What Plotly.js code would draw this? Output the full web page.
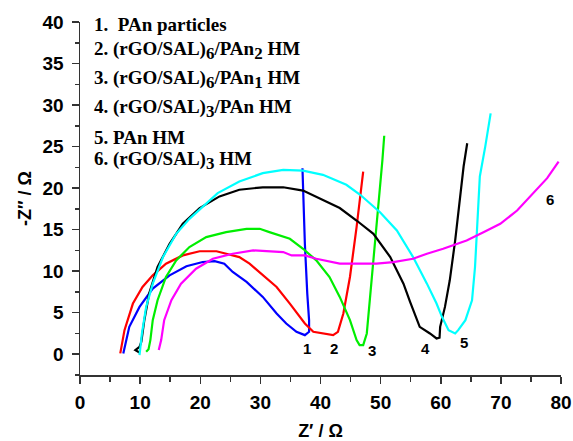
<!DOCTYPE html>
<html><head><meta charset="utf-8">
<script src="https://cdn.plot.ly/plotly-3.0.1.min.js"></script>
<style>html,body{margin:0;padding:0;background:#fff}#chart{width:573px;height:441px}</style>
</head><body><div id="chart"></div>
<script>
// Series data (Z' , -Z'')
const S = (d)=>'<sub><span style="font-size:17px">'+d+'</span></sub>';
const names = ["1.  PAn particles","2. (rGO/SAL)"+S("6")+"/PAn"+S("2")+" HM","3. (rGO/SAL)"+S("6")+"/PAn"+S("1")+" HM","4. (rGO/SAL)"+S("3")+"/PAn HM","5. PAn HM","6. (rGO/SAL)"+S("3")+" HM"];
const curveLabels = ["1","2","3","4","5","6"];
const colors = ["#0000ff","#ff0000","#00ee00","#000000","#00ffff","#ff00ff"];

const x1 = [7.2, 8.2, 9.9, 12.1, 14.9, 17.7, 20.4, 22.4, 24.0, 25.4, 27.7, 29.9, 30.4, 32.7, 34.3, 36.0, 37.4, 38.1, 38.1, 37.8, 37.4, 37.0];
const y1 = [0.1, 3.3, 5.7, 7.9, 9.5, 10.6, 11.1, 11.2, 10.9, 9.9, 8.7, 7.3, 6.9, 4.9, 3.7, 2.7, 2.3, 2.7, 4.1, 7.3, 13.3, 22.4];

const x2 = [6.7, 7.4, 8.8, 10.4, 12.1, 14.3, 17.1, 19.9, 22.7, 26.5, 28.2, 30.4, 32.7, 34.9, 37.4, 38.8, 42.1, 42.9, 43.8, 44.9, 46.0, 47.1];
const y2 = [0.1, 2.9, 6.1, 8.1, 9.5, 10.9, 11.9, 12.4, 12.4, 11.7, 10.9, 9.5, 8.1, 6.1, 3.7, 2.7, 2.3, 2.7, 4.9, 9.3, 15.3, 22.0];

const x3 = [11.0, 11.4, 11.7, 12.1, 12.9, 14.3, 16.0, 18.2, 21.0, 24.3, 27.7, 29.9, 31.5, 34.9, 37.1, 39.3, 41.5, 43.2, 44.9, 46.0, 46.5, 47.1, 47.7, 48.2, 48.9, 49.3, 49.9, 50.3, 50.6];
const y3 = [0.3, 0.6, 1.7, 4.1, 6.5, 9.3, 11.3, 12.9, 14.1, 14.7, 15.1, 15.1, 14.7, 13.9, 12.7, 11.3, 9.3, 6.9, 4.1, 1.7, 1.1, 1.1, 2.5, 6.5, 11.3, 15.3, 20.2, 23.4, 26.3];

const x4 = [9.9, 9.2, 9.9, 10.2, 10.7, 11.5, 12.9, 14.9, 17.1, 19.9, 23.2, 26.5, 30.4, 33.8, 37.1, 40.4, 43.2, 46.0, 48.8, 51.6, 53.8, 54.9, 56.5, 58.2, 59.3, 59.8, 59.9, 60.7, 61.5, 62.4, 63.2, 63.8, 64.4];
const y4 = [0.2, 0.5, 0.9, 1.5, 4.1, 7.3, 10.5, 13.3, 15.7, 17.6, 19.0, 19.8, 20.1, 20.1, 19.7, 18.6, 17.6, 16.1, 14.5, 11.7, 8.5, 6.3, 3.3, 2.5, 1.9, 2.0, 3.3, 5.7, 8.9, 13.7, 18.6, 22.6, 25.4];

const x5 = [9.9, 10.3, 11.0, 12.1, 13.8, 16.0, 18.2, 20.4, 22.9, 26.5, 30.4, 33.8, 37.1, 40.4, 44.3, 46.6, 49.9, 52.7, 55.4, 57.7, 59.3, 60.2, 61.3, 62.4, 62.9, 64.1, 65.2, 65.7, 66.0, 66.3, 66.5, 67.4, 68.3];
const y5 = [-0.1, 2.5, 5.7, 8.5, 11.7, 14.5, 16.3, 17.7, 19.4, 20.8, 21.8, 22.2, 22.1, 21.6, 20.4, 19.2, 17.1, 14.9, 11.7, 8.5, 6.1, 4.5, 2.9, 2.5, 2.9, 4.1, 6.5, 10.5, 14.5, 18.6, 21.4, 25.0, 29.0];

const x6 = [13.1, 13.5, 14.0, 15.2, 16.8, 19.3, 22.1, 25.4, 28.8, 31.5, 33.8, 35.2, 37.4, 39.3, 43.2, 49.3, 52.1, 55.4, 57.7, 60.4, 64.3, 67.1, 69.9, 72.7, 75.4, 77.7, 79.6];
const y6 = [0.5, 1.7, 4.1, 6.5, 8.5, 10.3, 11.5, 12.1, 12.5, 12.4, 12.3, 11.9, 11.9, 11.5, 10.9, 10.9, 11.1, 11.5, 12.1, 12.7, 13.7, 14.7, 15.7, 17.3, 19.4, 21.2, 23.2];

// label anchor positions (data coords)
const labelX = [37.7, 42.2, 48.6, 57.4, 63.9, 78.2];
const labelY = [0.7, 0.7, 0.5, 0.7, 1.4, 18.6];
const legendY = [39.65, 36.55, 33.05, 29.55, 26.15, 23.35];

const xs = [x1,x2,x3,x4,x5,x6], ys = [y1,y2,y3,y4,y5,y6];
const traces = xs.map((x,i)=>({x:x, y:ys[i], type:'scatter', mode:'lines', name:names[i],
  line:{color:colors[i], width:2.2, shape:'linear'}, hoverinfo:'skip'}));

const ann = [];
names.forEach((n,i)=>ann.push({x:2.0, y:legendY[i], xref:'x', yref:'y', text:n, showarrow:false,
  xanchor:'left', yanchor:'middle', font:{family:'Liberation Serif', size:19, weight:'bold', color:'#000'}}));
curveLabels.forEach((t,i)=>ann.push({x:labelX[i], y:labelY[i], xref:'x', yref:'y', text:t, showarrow:false,
  xanchor:'center', yanchor:'middle', font:{family:'Liberation Sans', size:15, weight:'bold', color:'#000'}}));

const axisFont = {family:'Liberation Sans', size:19, weight:'bold', color:'#000'};
const titleFont = {family:'Liberation Sans', size:18, weight:'bold', color:'#000'};
const layout = {
  width:573, height:441, showlegend:false,
  margin:{l:80, r:12, t:22, b:66},
  paper_bgcolor:'#fff', plot_bgcolor:'#fff',
  xaxis:{range:[0,80], tick0:0, dtick:10, ticks:'outside', ticklen:7, tickwidth:1.5, tickcolor:'#333',
    showline:true, linecolor:'#333', linewidth:1.5, showgrid:false, zeroline:false, ticklabelstandoff:3,
    minor:{dtick:5, ticks:'outside', ticklen:5, tickwidth:1.5, tickcolor:'#333'},
    tickfont:axisFont, title:{text:'Z′ / Ω', font:titleFont, standoff:12}},
  yaxis:{range:[-2.5,40], tick0:0, dtick:5, ticks:'outside', ticklen:7, tickwidth:1.5, tickcolor:'#333',
    showline:true, linecolor:'#333', linewidth:1.5, showgrid:false, zeroline:false, ticklabelstandoff:4,
    minor:{dtick:2.5, ticks:'outside', ticklen:4, tickwidth:1.5, tickcolor:'#333'},
    tickfont:axisFont, title:{text:'-Z″ / Ω', font:titleFont, standoff:6}},
  annotations:ann
};
Plotly.newPlot('chart', traces, layout, {staticPlot:true, displayModeBar:false});
</script></body></html>
